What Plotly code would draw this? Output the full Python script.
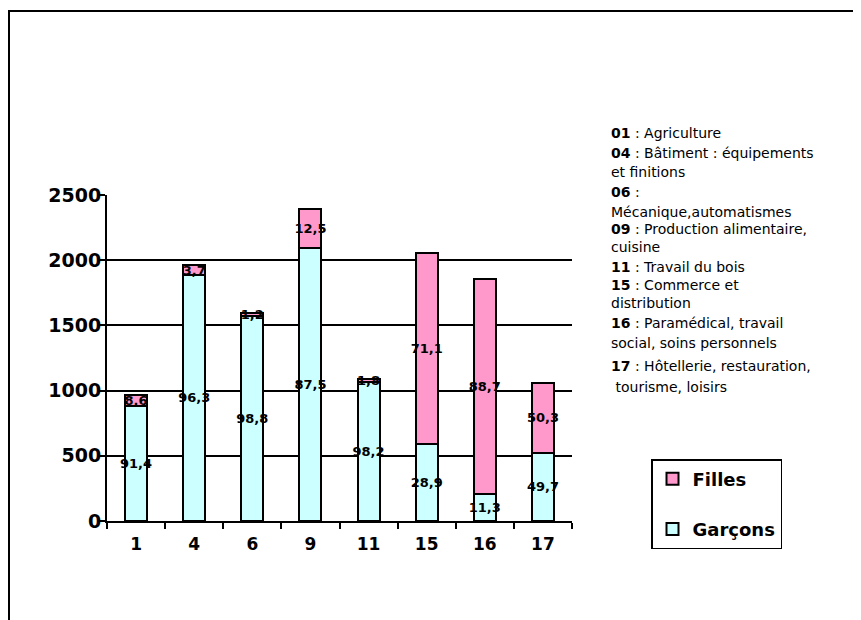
import plotly.graph_objects as go

# filières (codes) and pupil counts
categories = ["1", "4", "6", "9", "11", "15", "16", "17"]
garcons = [883, 1888, 1574, 2091, 1067, 593, 209, 525]
filles = [83, 73, 19, 299, 20, 1460, 1644, 531]
pct_garcons = ["91,4", "96,3", "98,8", "87,5", "98,2", "28,9", "11,3", "49,7"]
pct_filles = ["8,6", "3,7", "1,2", "12,5", "1,8", "71,1", "88,7", "50,3"]

key_lines = [
    "<b>01</b> : Agriculture",
    "<b>04</b> : Bâtiment : équipements",
    "et finitions",
    "<b>06</b> :",
    "Mécanique,automatismes",
    "<b>09</b> : Production alimentaire,",
    "cuisine",
    "<b>11</b> : Travail du bois",
    "<b>15</b> : Commerce et",
    "distribution",
    "<b>16</b> : Paramédical, travail",
    "social, soins personnels",
    "<b>17</b> : Hôtellerie, restauration,",
    "\u00a0tourisme, loisirs",
]
key_y_px = [133, 153, 172, 192, 212, 229, 247, 267, 285, 303, 323, 343, 366, 387]

FONT = "DejaVu Sans"
OFF = 8  # page body margin
W, H = 861 - OFF, 620 - OFF
L, T = 107 - OFF, 195 - OFF
R, B = W - (572 - OFF), H - (521 - OFF)
plot_w, plot_h = W - L - R, H - T - B


def px_x(x):
    return (x - OFF - L) / plot_w


def px_y(y):
    return (H - B - (y - OFF)) / plot_h


fig = go.Figure()
fig.add_trace(go.Bar(x=categories, y=garcons, name="Garçons", text=pct_garcons,
                     marker=dict(color="#CCFFFF", line=dict(color="black", width=2)),
                     legendgroup="g", legendrank=2))
fig.add_trace(go.Bar(x=categories, y=filles, name="Filles", text=pct_filles,
                     marker=dict(color="#FF99CC", line=dict(color="black", width=2)),
                     legendgroup="f", legendrank=1))
fig.update_traces(textposition="inside", insidetextanchor="middle", textangle=0,
                  textfont=dict(family=FONT, size=13, color="black", weight="bold"),
                  cliponaxis=False)

annotations = []
for line, ypx in zip(key_lines, key_y_px):
    annotations.append(dict(
        text=line, xref="paper", yref="paper",
        x=px_x(609), y=px_y(ypx),
        xanchor="left", yanchor="middle", showarrow=False,
        font=dict(family=FONT, size=14, color="black")))

fig.update_layout(
    width=W, height=H,
    margin=dict(l=L, r=R, t=T, b=B),
    paper_bgcolor="white", plot_bgcolor="white",
    barmode="stack", bargap=0.62,
    uniformtext=dict(minsize=13, mode="show"),
    font=dict(family=FONT, color="black"),
    legend=dict(x=px_x(651), y=px_y(459),
                xanchor="left", yanchor="top",
                traceorder="grouped", tracegroupgap=24,
                bordercolor="black", borderwidth=1.5, bgcolor="white",
                font=dict(family=FONT, size=18, weight="bold", color="black")),
    annotations=annotations,
    shapes=[dict(type="rect", xref="paper", yref="paper", layer="below",
                 x0=px_x(9), x1=px_x(880),
                 y0=px_y(640), y1=px_y(11),
                 line=dict(color="black", width=2))],
)
fig.update_xaxes(type="category", showline=True, linecolor="black", linewidth=2,
                 ticks="outside", tickson="boundaries", ticklen=6, tickwidth=1.5,
                 tickcolor="black", showgrid=False, ticklabelstandoff=7,
                 tickfont=dict(family=FONT, size=17, weight="bold"))
fig.update_yaxes(range=[0, 2500], dtick=500, showline=True, linecolor="black",
                 linewidth=2, ticks="outside", ticklen=6, tickwidth=1.5,
                 tickcolor="black", showgrid=True, gridcolor="black", gridwidth=1.5,
                 zeroline=False, ticklabelstandoff=-6,
                 tickfont=dict(family=FONT, size=19, weight="bold"))

fig.write_html("out.html")
